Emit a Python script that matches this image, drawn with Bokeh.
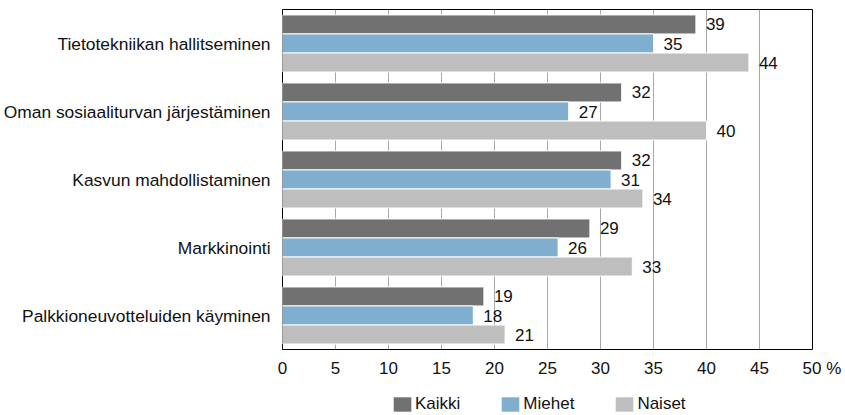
from bokeh.plotting import figure
from bokeh.models import (FactorRange, Range1d, FixedTicker, ColumnDataSource,
                          Legend, LegendItem)
from bokeh.layouts import column
from bokeh.transform import dodge
from bokeh.core.properties import value
from bokeh.embed import file_html
from bokeh.resources import INLINE

categories = ["Tietotekniikan hallitseminen",
              "Oman sosiaaliturvan järjestäminen",
              "Kasvun mahdollistaminen",
              "Markkinointi",
              "Palkkioneuvotteluiden käyminen"]
series_names = ["Kaikki", "Miehet", "Naiset"]
kaikki = [39, 32, 32, 29, 19]
miehet = [35, 27, 31, 26, 18]
naiset = [44, 40, 34, 33, 21]
x_ticks = [0, 5, 10, 15, 20, 25, 30, 35, 40, 45, 50]
unit_label = "%"

colors = ["#717171", "#7faecf", "#bebebe"]
FONT = "Liberation Sans"
TXT = "#111111"
FS = "17px"

p = figure(width=845, height=385, output_backend="svg", toolbar_location=None,
           y_range=FactorRange(factors=list(reversed(categories))),
           x_range=Range1d(0, 50),
           min_border_left=282, min_border_right=33,
           min_border_top=9, min_border_bottom=36)

src = ColumnDataSource(dict(cat=categories, Kaikki=kaikki, Miehet=miehet, Naiset=naiset,
                            Kaikki_t=[str(v) for v in kaikki],
                            Miehet_t=[str(v) for v in miehet],
                            Naiset_t=[str(v) for v in naiset]))

offsets = [0.28, 0.0, -0.28]
for name, off, col in zip(series_names, offsets, colors):
    p.hbar(y=dodge("cat", off, range=p.y_range), left=0, right=name, height=0.28,
           source=src, fill_color=col, line_color="white", line_width=1)
    p.text(x=name, y=dodge("cat", off, range=p.y_range), text=name + "_t", source=src,
           x_offset=10, text_align="left", text_baseline="middle",
           text_font=value(FONT), text_font_size=FS, text_color=TXT)

# axes
nb = "\u00a0"
labels = {t: str(t) for t in x_ticks}
labels[x_ticks[-1]] = nb * 4 + str(x_ticks[-1]) + nb + unit_label
p.xaxis.ticker = FixedTicker(ticks=x_ticks)
p.xaxis.major_label_overrides = labels
p.xaxis.major_tick_out = 0
p.xaxis.major_tick_in = 0
p.xaxis.minor_tick_out = 0
p.xaxis.minor_tick_in = 0
p.xaxis.axis_line_color = None
p.xaxis.major_label_standoff = 9
p.xaxis.major_label_text_font = FONT
p.xaxis.major_label_text_font_size = FS
p.xaxis.major_label_text_color = TXT

p.yaxis.major_tick_out = 0
p.yaxis.major_tick_in = 0
p.yaxis.axis_line_color = None
p.yaxis.major_label_standoff = 12
p.yaxis.major_label_text_font = FONT
p.yaxis.major_label_text_font_size = "17.4px"
p.yaxis.major_label_text_color = TXT

p.xgrid.grid_line_color = "#a8a8a8"
p.xgrid.grid_line_width = 1
p.ygrid.grid_line_color = None

p.outline_line_color = "black"
p.outline_line_width = 1
p.background_fill_color = "white"
p.border_fill_color = "white"

# legend strip (frame is aligned with the main frame by the column layout)
q = figure(width=845, height=30, output_backend="svg", toolbar_location=None,
           x_range=Range1d(0, 1), y_range=Range1d(0, 1),
           x_axis_location=None, y_axis_location=None,
           min_border=0, min_border_left=282, min_border_right=33,
           min_border_top=6, min_border_bottom=0)
q.outline_line_color = None
q.xgrid.visible = False
q.ygrid.visible = False
q.center = []
q.background_fill_color = None
q.border_fill_color = None
dummies = []
for col in colors:
    # legend-only renderers, drawn far outside the strip's ranges
    dummies.append(q.hbar(y=[-50], left=[20], right=[21], height=0.1,
                          fill_color=col, line_color=None))
legend = Legend(items=[LegendItem(label=n, renderers=[r]) for n, r in zip(series_names, dummies)],
                orientation="horizontal", location=(109, 1),
                glyph_width=22, glyph_height=18, label_height=18, label_standoff=2,
                spacing=39, padding=0, margin=0,
                border_line_color=None, background_fill_alpha=0,
                label_text_font=FONT, label_text_font_size=FS, label_text_color=TXT)
q.add_layout(legend, "center")

layout = column(p, q, spacing=0)
open("out.html", "w").write(file_html(layout, INLINE))
